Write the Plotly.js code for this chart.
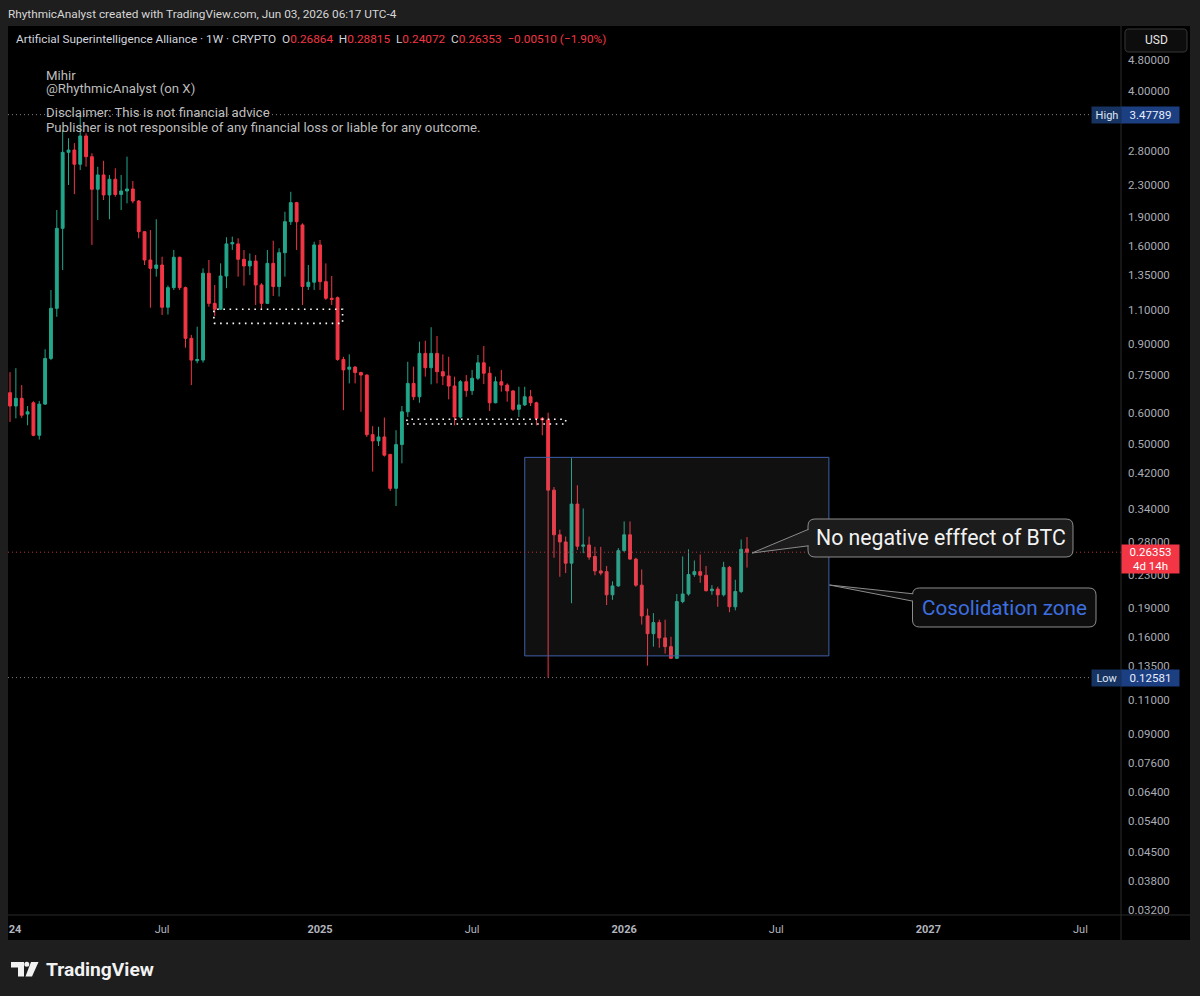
<!DOCTYPE html>
<html>
<head>
<meta charset="utf-8">
<script src="https://cdn.plot.ly/plotly-3.0.1.min.js"></script>
<style>
html,body{margin:0;padding:0;background:#1e1e1e;}
#chart{width:1200px;height:996px;}
</style>
</head>
<body>
<div id="chart"></div>
<script>
// ---------------- DATA (weekly candles) ----------------
const firstWeek = '2024-01-01';
const opens = [0.675,0.624,0.653,0.595,0.636,0.525,0.631,0.826,1.110,1.779,
 2.785,2.823,2.596,3.067,2.714,2.24,2.437,2.166,2.376,2.172,
 2.217,2.244,2.09,1.744,1.476,1.405,1.433,1.117,1.254,1.50,
 1.254,0.93,0.815,0.818,1.365,1.143,1.104,1.343,1.623,1.623,
 1.482,1.425,1.467,1.274,1.143,1.447,1.262,1.541,1.85,2.07,
 1.815,1.262,1.295,1.613,1.299,1.178,1.182,0.821,0.775,0.785,
 0.76,0.749,0.527,0.508,0.52,0.469,0.384,0.497,0.603,0.713,
 0.659,0.851,0.782,0.851,0.764,0.745,0.702,0.585,0.72,0.683,
 0.735,0.805,0.757,0.636,0.72,0.706,0.682,0.612,0.628,0.659,
 0.636,0.58,0.575,0.38,0.292,0.28,0.247,0.35,0.273,0.275,
 0.257,0.236,0.235,0.205,0.216,0.266,0.292,0.253,0.217,0.181,
 0.163,0.174,0.159,0.151,0.141,0.197,0.206,0.231,0.235,0.23,
 0.21,0.212,0.205,0.241,0.191,0.209,0.26864];
const highs = [0.762,0.780,0.706,0.624,0.642,0.643,0.872,1.237,1.982,3.177,
 3.026,2.94,3.47789,3.116,2.77,2.558,2.65,2.437,2.535,2.437,
 2.714,2.352,2.102,1.75,1.761,1.877,1.505,1.27,1.566,1.505,
 1.262,0.949,0.996,1.405,1.476,1.274,1.447,1.688,1.694,1.678,
 1.566,1.534,1.52,1.287,1.566,1.654,1.582,1.962,2.207,2.08,
 1.832,1.433,1.644,1.661,1.447,1.343,1.19,0.834,0.846,0.79,
 0.764,0.752,0.554,0.552,0.583,0.471,0.541,0.624,0.81,0.787,
 0.912,0.917,0.993,0.943,0.846,0.834,0.742,0.727,0.749,0.772,
 0.843,0.889,0.787,0.742,0.772,0.713,0.686,0.699,0.699,0.686,
 0.64,0.585,0.60,0.387,0.301,0.289,0.459,0.391,0.341,0.289,
 0.272,0.272,0.243,0.222,0.27,0.316,0.316,0.255,0.238,0.189,
 0.184,0.177,0.177,0.16,0.206,0.257,0.268,0.251,0.26,0.243,
 0.217,0.215,0.249,0.243,0.224,0.284,0.28815];
const lows = [0.568,0.580,0.582,0.557,0.522,0.512,0.628,0.818,1.056,1.391,
 2.297,2.176,2.509,2.558,1.613,1.869,2.102,1.877,2.144,1.982,
 2.062,2.062,1.678,1.433,1.114,1.338,1.067,1.07,1.237,1.237,
 0.88,0.706,0.803,0.806,1.121,1.061,1.099,1.25,1.566,1.338,
 1.269,1.35,1.132,1.104,1.138,1.194,1.19,1.338,1.815,1.566,
 1.132,1.237,1.237,1.237,1.166,1.132,0.815,0.609,0.713,0.713,
 0.603,0.52,0.424,0.493,0.463,0.378,0.346,0.445,0.585,0.646,
 0.636,0.742,0.709,0.713,0.706,0.649,0.557,0.58,0.659,0.666,
 0.727,0.71,0.606,0.634,0.679,0.64,0.606,0.585,0.624,0.624,
 0.557,0.525,0.12581,0.255,0.228,0.233,0.195,0.267,0.262,0.252,
 0.23,0.23,0.193,0.199,0.215,0.264,0.252,0.215,0.172,0.135,
 0.151,0.15,0.145,0.1405,0.1405,0.195,0.204,0.228,0.22,0.209,
 0.205,0.191,0.203,0.185,0.187,0.207,0.24072];
const closes = [0.624,0.653,0.591,0.603,0.525,0.631,0.826,1.110,1.779,2.785,
 2.823,2.596,3.067,2.714,2.24,2.437,2.166,2.376,2.172,2.217,
 2.244,2.09,1.744,1.476,1.405,1.433,1.117,1.254,1.50,1.254,
 0.93,0.818,0.821,1.365,1.143,1.104,1.343,1.623,1.635,1.482,
 1.425,1.467,1.274,1.143,1.447,1.262,1.541,1.85,2.07,1.85,
 1.262,1.295,1.613,1.299,1.178,1.17,0.821,0.772,0.785,0.76,
 0.749,0.527,0.508,0.52,0.467,0.384,0.497,0.603,0.713,0.659,
 0.851,0.782,0.851,0.764,0.745,0.702,0.585,0.72,0.683,0.735,
 0.805,0.757,0.636,0.72,0.706,0.682,0.612,0.628,0.659,0.636,
 0.58,0.575,0.38,0.292,0.28,0.247,0.35,0.273,0.275,0.256,
 0.236,0.233,0.205,0.216,0.266,0.292,0.253,0.217,0.181,0.163,
 0.174,0.159,0.151,0.141,0.197,0.206,0.231,0.235,0.23,0.21,
 0.212,0.205,0.241,0.191,0.209,0.268,0.26353];

const yTickVals = [4.8,4.0,2.8,2.3,1.9,1.6,1.35,1.1,0.9,0.75,0.6,0.5,0.42,0.34,0.28,0.23,0.19,0.16,0.135,0.11,0.09,0.076,0.064,0.054,0.045,0.038,0.032];
const yTickText = ['4.80000','4.00000','2.80000','2.30000','1.90000','1.60000','1.35000','1.10000','0.90000','0.75000','0.60000','0.50000','0.42000','0.34000','0.28000','0.23000','0.19000','0.16000','0.13500','0.11000','0.09000','0.07600','0.06400','0.05400','0.04500','0.03800','0.03200'];
const xTickVals = ['2024-01-07','2024-07-01','2025-01-06','2025-07-07','2026-01-05','2026-07-06','2027-01-04','2027-07-05'];
const xTickText = ['<b>24</b>','Jul','<b>2025</b>','Jul','<b>2026</b>','Jul','<b>2027</b>','Jul'];

const highValue = 3.47789, lowValue = 0.12581, lastValue = 0.26353;
const lastOHLC = {o:'0.26864', h:'0.28815', l:'0.24072', c:'0.26353', chg:'\u22120.00510 (\u22121.90%)'};
const zoneDates = ['2025-09-08','2026-09-07'];
const zonePrices = [0.143, 0.461];
const box1Dates = ['2024-09-01','2025-02-02'];
const box1Prices = [1.016, 1.104];
const box2Dates = ['2025-04-20','2025-10-27'];
const box2Prices = [0.561, 0.577];
const xRange = ['2023-12-29 14:00','2027-08-22 14:00'];
const yRangeLog = [-1.5082, 0.7683];

// weekly bar dates
const dates = opens.map((_, i) => {
  const d = new Date(Date.parse(firstWeek + 'T00:00:00Z') + i * 7 * 864e5);
  return d.toISOString().slice(0, 10);
});

// ---------------- LAYOUT HELPERS ----------------
const L = 8, R = 1121, T = 26, B = 915;
const W = R - L, H = B - T;
const px = x => (x - L) / W;
const py = y => (B - y) / H;
const FONT = 'Roboto, "Noto Sans", sans-serif';
const ctx = document.createElement('canvas').getContext('2d');
function fit(text, target, weight) {
  ctx.font = (weight || 'normal') + ' 100px Roboto';
  return 100 * target / ctx.measureText(text).width;
}
function rr(x0, y0, x1, y1, r) {
  const X = v => px(v).toFixed(5), Y = v => py(v).toFixed(5);
  return `M ${X(x0 + r)},${Y(y0)} L ${X(x1 - r)},${Y(y0)} Q ${X(x1)},${Y(y0)} ${X(x1)},${Y(y0 + r)} ` +
         `L ${X(x1)},${Y(y1 - r)} Q ${X(x1)},${Y(y1)} ${X(x1 - r)},${Y(y1)} L ${X(x0 + r)},${Y(y1)} ` +
         `Q ${X(x0)},${Y(y1)} ${X(x0)},${Y(y1 - r)} L ${X(x0)},${Y(y0 + r)} Q ${X(x0)},${Y(y0)} ${X(x0 + r)},${Y(y0)} Z`;
}
function poly(pts) {
  return 'M ' + pts.map(p => px(p[0]).toFixed(5) + ',' + py(p[1]).toFixed(5)).join(' L ') + ' Z';
}
function pline(x0, y0, x1, y1, color, width) {
  return {type:'line', xref:'paper', yref:'paper', x0:px(x0), y0:py(y0), x1:px(x1), y1:py(y1),
          line:{color:color, width:width || 1}};
}

const UP = '#22a68b', DN = '#f23645';

// ---------------- TRACES ----------------
const rectX = d => [d[0], d[1], d[1], d[0], d[0]];
const rectY = p => [p[0], p[0], p[1], p[1], p[0]];
const traces = [
  {type:'scatter', mode:'lines', x:rectX(zoneDates), y:rectY(zonePrices), fill:'toself',
   fillcolor:'rgba(128,128,128,0.12)', line:{color:'#3f5ea8', width:1}, hoverinfo:'skip', showlegend:false},
  {type:'scatter', mode:'lines', x:xRange, y:[highValue, highValue],
   line:{color:'#7d7d7d', width:1, dash:'1px,3px'}, hoverinfo:'skip', showlegend:false},
  {type:'scatter', mode:'lines', x:xRange, y:[lowValue, lowValue],
   line:{color:'#7d7d7d', width:1, dash:'1px,3px'}, hoverinfo:'skip', showlegend:false},
  {type:'scatter', mode:'lines', x:xRange, y:[lastValue, lastValue],
   line:{color:'#b8323c', width:1, dash:'1px,3px'}, hoverinfo:'skip', showlegend:false},
  {type:'scatter', mode:'lines', x:rectX(box1Dates), y:rectY(box1Prices),
   line:{color:'#ffffff', width:1.6, dash:'1.6px,4.6px'}, hoverinfo:'skip', showlegend:false},
  {type:'scatter', mode:'lines', x:rectX(box2Dates), y:rectY(box2Prices),
   line:{color:'#ffffff', width:1.6, dash:'1.6px,4.6px'}, hoverinfo:'skip', showlegend:false},
  {type:'candlestick', x:dates, open:opens, high:highs, low:lows, close:closes,
   increasing:{line:{color:UP, width:1}, fillcolor:UP},
   decreasing:{line:{color:DN, width:1}, fillcolor:DN},
   whiskerwidth:0, hoverinfo:'skip', showlegend:false}
];

// ---------------- SHAPES ----------------
const shapes = [
  {type:'rect', xref:'paper', yref:'paper', x0:px(8), x1:px(1190), y0:py(26), y1:py(940),
   fillcolor:'#000000', line:{width:0}, layer:'below'},
  pline(1121, 26, 1121, 940, '#2b2b2b', 1),
  pline(8, 915, 1190, 915, '#2b2b2b', 1),
  // USD box
  {type:'path', xref:'paper', yref:'paper', path:rr(1125, 29, 1187, 52, 4),
   fillcolor:'#0d0d0d', line:{color:'#383838', width:1}},
  // callout 1
  {type:'path', xref:'paper', yref:'paper', path:rr(808, 519, 1073, 557, 7),
   fillcolor:'#1c1c1c', line:{color:'#8c8c8c', width:1}},
  {type:'path', xref:'paper', yref:'paper', path:poly([[809, 529.5],[752, 553],[809, 545.5]]),
   fillcolor:'#1c1c1c', line:{width:0}},
  pline(752, 553, 808.5, 529.3, '#8c8c8c', 1),
  pline(752, 553, 808.5, 545.8, '#8c8c8c', 1),
  // callout 2
  {type:'path', xref:'paper', yref:'paper', path:rr(912.5, 588, 1096, 627, 7),
   fillcolor:'#0e0e0e', line:{color:'#8c8c8c', width:1}},
  {type:'path', xref:'paper', yref:'paper', path:poly([[913.5, 594],[829.5, 585],[913.5, 601]]),
   fillcolor:'#0e0e0e', line:{width:0}},
  pline(829.5, 585, 913, 593.8, '#8c8c8c', 1),
  pline(829.5, 585, 913, 601.2, '#8c8c8c', 1),
  // TradingView logo mark
  {type:'path', xref:'paper', yref:'paper', path:poly([[11,962],[24,962],[24,976.5],[18,976.5],[18,967.5],[11,967.5]]),
   fillcolor:'#f2f2f2', line:{width:0}},
  {type:'circle', xref:'paper', yref:'paper', x0:px(24.3), x1:px(29.3), y0:py(961.8), y1:py(966.8),
   fillcolor:'#f2f2f2', line:{width:0}},
  {type:'path', xref:'paper', yref:'paper', path:poly([[31,962],[38.5,962],[32,976.5],[25.5,976.5]]),
   fillcolor:'#f2f2f2', line:{width:0}}
];

// ---------------- ANNOTATIONS ----------------
const creditText = 'RhythmicAnalyst created with TradingView.com, Jun 03, 2026 06:17 UTC-4';
const headPlain = 'Artificial Superintelligence Alliance \u00b7 1W \u00b7 CRYPTO  O' + lastOHLC.o + '  H' + lastOHLC.h +
  '  L' + lastOHLC.l + '  C' + lastOHLC.c + '  ' + lastOHLC.chg;
const red = s => '<span style="color:#f23645">' + s + '</span>';
const headRich = 'Artificial Superintelligence Alliance \u00b7 1W \u00b7 CRYPTO\u00a0\u00a0O' + red(lastOHLC.o) +
  '\u00a0\u00a0H' + red(lastOHLC.h) + '\u00a0\u00a0L' + red(lastOHLC.l) + '\u00a0\u00a0C' + red(lastOHLC.c) +
  '\u00a0\u00a0' + red(lastOHLC.chg);
const noteLines = ['Mihir', '@RhythmicAnalyst (on X)', 'Disclaimer: This is not financial advice',
  'Publisher is not responsible of any financial loss or liable for any outcome.'];
const noteY = [75, 88, 113, 127];
const noteSize = fit(noteLines[3], 435);
const call1 = 'No negative efffect of BTC';
const call2 = 'Cosolidation zone';

function txt(text, x, y, size, color, extra) {
  return Object.assign({xref:'paper', yref:'paper', x:px(x), y:py(y), xanchor:'left', yanchor:'middle',
    text:text, showarrow:false, borderpad:0, font:{family:FONT, size:size, color:color}}, extra || {});
}
const tvSize = fit('TradingView', 108, 'bold');
const annotations = [
  txt(creditText, 7, 14, fit(creditText, 389), '#d6d6d6'),
  txt(headRich, 15, 39, fit(headPlain.replace(/  /g, '\u00a0\u00a0'), 591), '#d1d4dc'),
  txt('USD', 1156, 40.5, 12, '#e6e6e6', {xanchor:'center'}),
  txt(call1, 940.5, 537.5, fit(call1, 250), '#f2f2f2', {xanchor:'center'}),
  txt(call2, 1004.5, 607.5, fit(call2, 165), '#3d6fe0', {xanchor:'center'}),
  txt('TradingView', 45, 969, tvSize, '#f2f2f2', {font:{family:FONT, size:tvSize, color:'#f2f2f2', weight:'bold'}}),
  // High / Low labels
  {xref:'paper', yref:'y', x:px(1091), y:Math.log10(highValue), xanchor:'left', yanchor:'middle',
   text:'High', showarrow:false, bgcolor:'#173361', width:26, height:12, borderpad:2,
   font:{family:FONT, size:11, color:'#dfe6f5'}},
  {xref:'paper', yref:'y', x:px(1121), y:Math.log10(highValue), xanchor:'left', yanchor:'middle',
   text:String(highValue), showarrow:false, bgcolor:'#1c3f82', width:53, height:12, borderpad:2,
   font:{family:FONT, size:11.5, color:'#e8eefc'}},
  {xref:'paper', yref:'y', x:px(1091), y:Math.log10(lowValue), xanchor:'left', yanchor:'middle',
   text:'Low', showarrow:false, bgcolor:'#173361', width:26, height:12, borderpad:2,
   font:{family:FONT, size:11, color:'#dfe6f5'}},
  {xref:'paper', yref:'y', x:px(1121), y:Math.log10(lowValue), xanchor:'left', yanchor:'middle',
   text:String(lowValue), showarrow:false, bgcolor:'#1c3f82', width:53, height:12, borderpad:2,
   font:{family:FONT, size:11.5, color:'#e8eefc'}},
  {xref:'paper', yref:'y', x:px(1121), y:Math.log10(lastValue), xanchor:'left', yanchor:'top', yshift:8,
   text:String(lastValue) + '<br>4d 14h', showarrow:false, bgcolor:'#f23645', width:53, height:24, borderpad:2,
   align:'center', font:{family:FONT, size:11.5, color:'#ffffff'}}
];
noteLines.forEach((t, i) => annotations.push(txt(t, 45, noteY[i], noteSize, '#bdbdbd')));

const layout = {
  width:1200, height:996,
  margin:{l:L, r:1200 - R, t:T, b:996 - B, pad:0},
  paper_bgcolor:'#1e1e1e', plot_bgcolor:'#000000',
  showlegend:false, hovermode:false, dragmode:false,
  font:{family:FONT, color:'#b2b5be'},
  xaxis:{type:'date', range:xRange, tickvals:xTickVals, ticktext:xTickText, showgrid:false, zeroline:false,
    showline:false, ticks:'', tickfont:{family:FONT, size:11, color:'#b2b5be'}, rangeslider:{visible:false},
    fixedrange:true, ticklabelstandoff:6},
  yaxis:{type:'log', range:yRangeLog, side:'right', tickvals:yTickVals, ticktext:yTickText, showgrid:false,
    zeroline:false, showline:false, ticks:'', tickfont:{family:FONT, size:11.5, color:'#a9acb5'},
    fixedrange:true, ticklabelstandoff:6},
  shapes:shapes,
  annotations:annotations
};

Plotly.newPlot('chart', traces, layout, {staticPlot:true, displayModeBar:false});
</script>
</body>
</html>
